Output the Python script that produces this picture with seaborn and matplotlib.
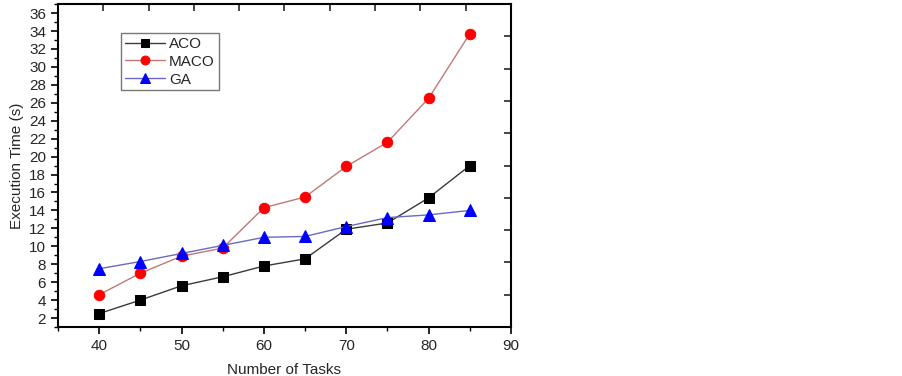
import numpy as np
import pandas as pd
import seaborn as sns
import matplotlib.pyplot as plt
from matplotlib.ticker import MultipleLocator

tasks = [40, 45, 50, 55, 60, 65, 70, 75, 80, 85]
aco = [2.5, 4.0, 5.6, 6.6, 7.8, 8.6, 11.9, 12.6, 15.4, 19.0]
maco = [4.6, 7.0, 8.9, 9.8, 14.3, 15.5, 18.9, 21.6, 26.5, 33.7]
ga = [7.5, 8.3, 9.2, 10.1, 11.0, 11.1, 12.2, 13.2, 13.5, 14.0]

sns.set_theme(style='white')
plt.rcParams['font.family'] = ['Liberation Sans', 'DejaVu Sans']

df = pd.DataFrame({'tasks': tasks, 'ACO': aco, 'MACO': maco, 'GA': ga})

fig = plt.figure(figsize=(9.02, 3.76), dpi=100)
ax = fig.add_axes([0.0643, 0.1303, 0.5022, 0.8587])

series = [
    ('ACO', '#3a3a3a', 's', 'black', 6.5),
    ('MACO', '#c07878', 'o', 'red', 7.5),
    ('GA', '#6a6ac0', '^', 'blue', 8),
]
for name, lc, mk, mc, ms in series:
    sns.lineplot(data=df, x='tasks', y=name, ax=ax, color=lc, lw=1,
                 marker=mk, markersize=ms, markerfacecolor=mc,
                 markeredgecolor=mc, label=name)

ax.set_xlim(35, 90)
ax.set_ylim(1, 37)
ax.xaxis.set_major_locator(MultipleLocator(10))
ax.xaxis.set_minor_locator(MultipleLocator(5))
ax.yaxis.set_major_locator(MultipleLocator(2))
ax.yaxis.set_minor_locator(MultipleLocator(1))
ax.tick_params(which='major', direction='out', length=5, width=1.2,
               labelsize=11, color='black', bottom=True, left=True)
ax.tick_params(which='minor', direction='out', length=3, width=1,
               color='black', bottom=True, left=True)
for s in ax.spines.values():
    s.set_linewidth(1.5)
    s.set_color('black')

# mirrored top/right ticks (inward, 10 equal divisions)
top = ax.secondary_xaxis('top')
top.set_xticks(np.linspace(35, 90, 11))
top.tick_params(direction='in', length=5, width=1.2, labeltop=False)
right = ax.secondary_yaxis('right')
right.set_yticks(np.linspace(1, 37, 11))
right.tick_params(direction='in', length=5, width=1.2, labelright=False)

ax.set_xlabel('Number of Tasks', fontsize=11, labelpad=7)
ax.set_ylabel('Execution Time (s)', fontsize=11, labelpad=4)

leg = ax.legend(loc='upper left', bbox_to_anchor=(0.139, 0.91), frameon=True,
                fancybox=False, edgecolor='#555555', fontsize=11,
                handlelength=2.6, labelspacing=0.25, borderpad=0.25,
                handletextpad=0.3, borderaxespad=0, markerscale=0.85)
leg.get_frame().set_linewidth(1)

fig.savefig('out.png', dpi=100)
